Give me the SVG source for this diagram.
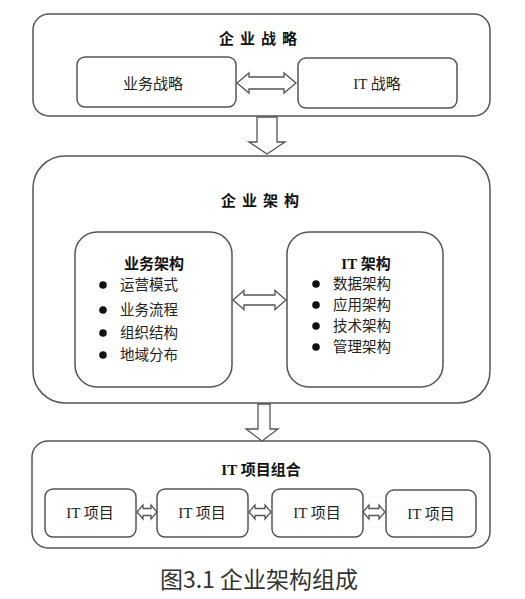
<svg xmlns="http://www.w3.org/2000/svg" width="525" height="599" viewBox="0 0 525 599">
<style>
.box{fill:#fff;stroke:#555;stroke-width:1.5}
.arr{fill:#fff;stroke:#555;stroke-width:1.3;stroke-linejoin:miter}
.t{font-family:"Liberation Serif","Noto Sans CJK SC",serif;font-size:15px;fill:#222;text-anchor:middle}
.tb{font-family:"Liberation Serif","Noto Sans CJK SC",serif;font-size:15px;fill:#111;font-weight:bold;text-anchor:middle}
.sp{letter-spacing:6px}
.li{font-family:"Liberation Serif","Noto Sans CJK SC",serif;font-size:14.5px;fill:#222}
.dot{fill:#111}
.cap{font-family:"Noto Sans CJK SC","Liberation Sans",sans-serif;font-size:23px;fill:#333;text-anchor:middle}
</style>
<rect width="525" height="599" fill="#fff"/>

<g id="strategy">
<rect class="box" x="33" y="14" width="457" height="102" rx="16"/>
<text class="tb sp" x="261" y="44">企业战略</text>
</g>
<g id="biz-strategy">
<rect class="box" x="77" y="57" width="159" height="50" rx="8"/>
<text class="t" x="153" y="89">业务战略</text>
</g>
<g id="it-strategy">
<rect class="box" x="298" y="58" width="159" height="50" rx="8"/>
<text class="t" x="377" y="89">IT 战略</text>
</g>

<g id="ea">
<rect class="box" x="33" y="156" width="457" height="247" rx="32"/>
<text class="tb sp" x="263" y="206">企业架构</text>
</g>
<g id="biz-arch">
<rect class="box" x="75" y="232" width="157" height="155" rx="22"/>
<text class="tb" x="154" y="269">业务架构</text>
<circle class="dot" cx="103" cy="285" r="3.8"/>
<text class="li" x="120" y="290">运营模式</text>
<circle class="dot" cx="103" cy="310" r="3.8"/>
<text class="li" x="120" y="315">业务流程</text>
<circle class="dot" cx="103" cy="333" r="3.8"/>
<text class="li" x="120" y="338">组织结构</text>
<circle class="dot" cx="103" cy="355" r="3.8"/>
<text class="li" x="120" y="360">地域分布</text>
</g>
<g id="it-arch">
<rect class="box" x="287" y="232" width="156" height="155" rx="22"/>
<text class="tb" x="366" y="269">IT 架构</text>
<circle class="dot" cx="316" cy="284" r="3.8"/>
<text class="li" x="333" y="289">数据架构</text>
<circle class="dot" cx="316" cy="305" r="3.8"/>
<text class="li" x="333" y="310">应用架构</text>
<circle class="dot" cx="316" cy="326" r="3.8"/>
<text class="li" x="333" y="331">技术架构</text>
<circle class="dot" cx="316" cy="347" r="3.8"/>
<text class="li" x="333" y="352">管理架构</text>
</g>

<g id="portfolio">
<rect class="box" x="32" y="441" width="458" height="107" rx="16"/>
<text class="tb" x="261" y="475">IT 项目组合</text>
</g>
<g id="p1">
<rect class="box" x="45" y="489" width="91" height="48" rx="8"/>
<text class="t" x="90" y="518">IT 项目</text>
</g>
<g id="p2">
<rect class="box" x="157" y="489" width="91" height="48" rx="8"/>
<text class="t" x="202" y="518">IT 项目</text>
</g>
<g id="p3">
<rect class="box" x="272" y="489" width="91" height="48" rx="8"/>
<text class="t" x="317" y="518">IT 项目</text>
</g>
<g id="p4">
<rect class="box" x="386" y="490" width="90" height="47" rx="8"/>
<text class="t" x="431" y="519">IT 项目</text>
</g>

<g id="connectors">
<path class="arr" d="M237,83 L249,73 L249,77 L284,77 L284,73 L296,83 L284,93 L284,89 L249,89 L249,93 Z"/>
<path class="arr" d="M233,300 L244,290.5 L244,295 L275,295 L275,290.5 L286,300 L275,309.5 L275,305 L244,305 L244,309.5 Z"/>
<path class="arr" d="M137,512 L143,505 L143,508.5 L151,508.5 L151,505 L157,512 L151,519 L151,515.5 L143,515.5 L143,519 Z"/>
<path class="arr" d="M249,512 L255,505 L255,508.5 L265,508.5 L265,505 L271,512 L265,519 L265,515.5 L255,515.5 L255,519 Z"/>
<path class="arr" d="M363,512 L369,505 L369,508.5 L379,508.5 L379,505 L385,512 L379,519 L379,515.5 L369,515.5 L369,519 Z"/>
<path class="arr" d="M257,117 L277,117 L277,142 L285,142 L267,154 L249,142 L257,142 Z"/>
<path class="arr" d="M258,404 L270,404 L270,429 L278,429 L262,441 L246,429 L258,429 Z"/>
</g>

<text class="cap" x="259" y="588">图3.1 企业架构组成</text>
</svg>
